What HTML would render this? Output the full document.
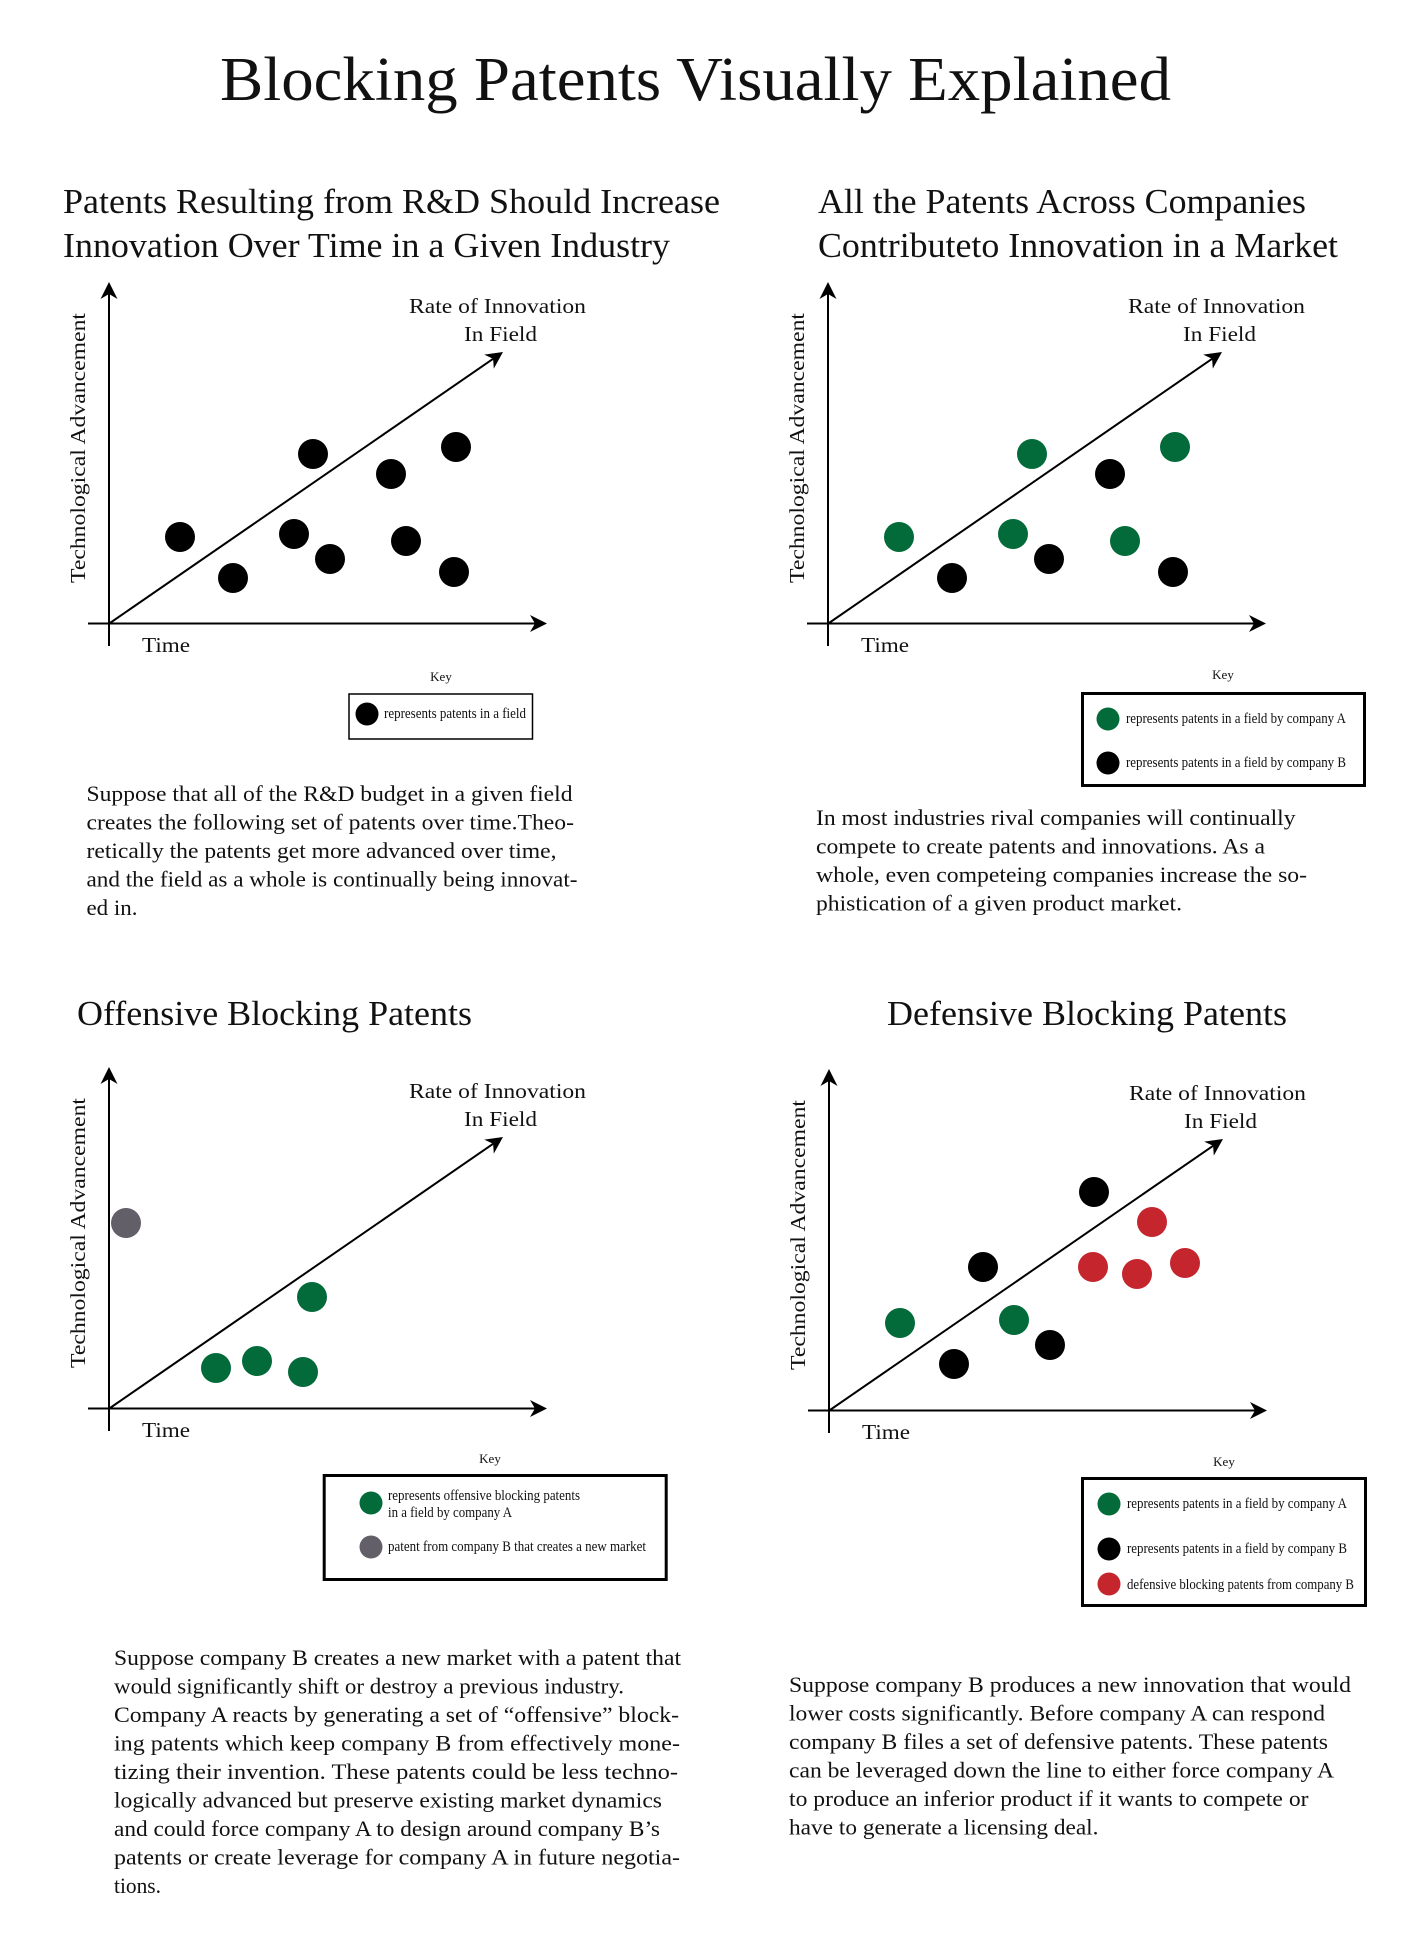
<!DOCTYPE html>
<html>
<head>
<meta charset="utf-8">
<style>
  html,body{margin:0;padding:0;background:#fff;}
  svg{display:block;}
  text{font-family:"Liberation Serif","Times New Roman",serif;fill:#111;}
</style>
</head>
<body>
<svg width="1420" height="1952" viewBox="0 0 1420 1952" xmlns="http://www.w3.org/2000/svg">
  <rect x="0" y="0" width="1420" height="1952" fill="#fff"/>
  <defs>
    <g id="axes">
      <line x1="109" y1="292" x2="109" y2="646" stroke="#000" stroke-width="2"/>
      <path d="M109,282 L117.5,299 L109,294 L100.5,299 Z" fill="#000"/>
      <line x1="88" y1="623.5" x2="537" y2="623.5" stroke="#000" stroke-width="2"/>
      <path d="M547,623.5 L530,615 L535,623.5 L530,632 Z" fill="#000"/>
      <line x1="110" y1="623" x2="493.1" y2="358.8" stroke="#000" stroke-width="2"/>
      <path d="M503,352 L493.8,368.6 L493.1,358.8 L484.2,354.65 Z" fill="#000"/>
      <text x="409" y="313" font-size="21.5" textLength="177" lengthAdjust="spacingAndGlyphs">Rate of Innovation</text>
      <text x="464" y="341" font-size="21.5" textLength="73" lengthAdjust="spacingAndGlyphs">In Field</text>
      <text x="142" y="652" font-size="21.5" textLength="48" lengthAdjust="spacingAndGlyphs">Time</text>
      <text transform="translate(85,448) rotate(-90)" x="-135" y="0" font-size="21.5" textLength="270" lengthAdjust="spacingAndGlyphs">Technological Advancement</text>
    </g>
  </defs>

  <text x="220" y="100" font-size="62" textLength="951" lengthAdjust="spacingAndGlyphs">Blocking Patents Visually Explained</text>

  <text x="63" y="213" font-size="34.5" textLength="657" lengthAdjust="spacingAndGlyphs">Patents Resulting from R&amp;D Should Increase</text>
  <text x="63" y="257" font-size="34.5" textLength="607" lengthAdjust="spacingAndGlyphs">Innovation Over Time in a Given Industry</text>
  <text x="818" y="213" font-size="34.5" textLength="488" lengthAdjust="spacingAndGlyphs">All the Patents Across Companies</text>
  <text x="818" y="257" font-size="34.5" textLength="520" lengthAdjust="spacingAndGlyphs">Contributeto Innovation in a Market</text>
  <text x="77" y="1025" font-size="34.5" textLength="395" lengthAdjust="spacingAndGlyphs">Offensive Blocking Patents</text>
  <text x="887" y="1025" font-size="34.5" textLength="400" lengthAdjust="spacingAndGlyphs">Defensive Blocking Patents</text>

  <use href="#axes"/>
  <g fill="#000">
    <circle cx="180" cy="537" r="15"/>
    <circle cx="233" cy="578" r="15"/>
    <circle cx="313" cy="454" r="15"/>
    <circle cx="294" cy="534" r="15"/>
    <circle cx="330" cy="559" r="15"/>
    <circle cx="391" cy="474" r="15"/>
    <circle cx="406" cy="541" r="15"/>
    <circle cx="456" cy="447" r="15"/>
    <circle cx="454" cy="572" r="15"/>
  </g>

  <g transform="translate(719,0)">
    <use href="#axes"/>
    <g fill="#036b39">
      <circle cx="180" cy="537" r="15"/>
      <circle cx="313" cy="454" r="15"/>
      <circle cx="294" cy="534" r="15"/>
      <circle cx="406" cy="541" r="15"/>
      <circle cx="456" cy="447" r="15"/>
    </g>
    <g fill="#000">
      <circle cx="233" cy="578" r="15"/>
      <circle cx="330" cy="559" r="15"/>
      <circle cx="391" cy="474" r="15"/>
      <circle cx="454" cy="572" r="15"/>
    </g>
  </g>

  <g transform="translate(0,785)">
    <use href="#axes"/>
  </g>
  <circle cx="126" cy="1223" r="15" fill="#625f69"/>
  <g fill="#036b39">
    <circle cx="216" cy="1368" r="15"/>
    <circle cx="257" cy="1361" r="15"/>
    <circle cx="312" cy="1297" r="15"/>
    <circle cx="303" cy="1372" r="15"/>
  </g>

  <g transform="translate(720,787)">
    <use href="#axes"/>
  </g>
  <g fill="#036b39">
    <circle cx="900" cy="1323" r="15"/>
    <circle cx="1014" cy="1320" r="15"/>
  </g>
  <g fill="#000">
    <circle cx="1094" cy="1192" r="15"/>
    <circle cx="983" cy="1267" r="15"/>
    <circle cx="954" cy="1364" r="15"/>
    <circle cx="1050" cy="1345" r="15"/>
  </g>
  <g fill="#c5262e">
    <circle cx="1152" cy="1222" r="15"/>
    <circle cx="1093" cy="1267" r="15"/>
    <circle cx="1137" cy="1274" r="15"/>
    <circle cx="1185" cy="1263" r="15"/>
  </g>

  <text x="441" y="681" font-size="13" text-anchor="middle">Key</text>
  <rect x="349" y="694" width="183.5" height="45" fill="none" stroke="#000" stroke-width="1.5"/>
  <circle cx="367" cy="714" r="11.5" fill="#000"/>
  <text x="384" y="718" font-size="15" textLength="142" lengthAdjust="spacingAndGlyphs">represents patents in a field</text>

  <text x="1223" y="679" font-size="13" text-anchor="middle">Key</text>
  <rect x="1082.5" y="693.5" width="282" height="92" fill="none" stroke="#000" stroke-width="3"/>
  <circle cx="1108" cy="719" r="11.5" fill="#036b39"/>
  <text x="1126" y="723" font-size="15" textLength="220" lengthAdjust="spacingAndGlyphs">represents patents in a field by company A</text>
  <circle cx="1108" cy="763" r="11.5" fill="#000"/>
  <text x="1126" y="767" font-size="15" textLength="220" lengthAdjust="spacingAndGlyphs">represents patents in a field by company B</text>

  <text x="490" y="1463" font-size="13" text-anchor="middle">Key</text>
  <rect x="324.2" y="1475.5" width="342" height="104" fill="none" stroke="#000" stroke-width="3"/>
  <circle cx="371" cy="1503" r="11.5" fill="#036b39"/>
  <text x="388" y="1500" font-size="15" textLength="192" lengthAdjust="spacingAndGlyphs">represents offensive blocking patents</text>
  <text x="388" y="1517" font-size="15" textLength="124" lengthAdjust="spacingAndGlyphs">in a field by company A</text>
  <circle cx="371" cy="1547" r="11.5" fill="#625f69"/>
  <text x="388" y="1551" font-size="15" textLength="258" lengthAdjust="spacingAndGlyphs">patent from company B that creates a new market</text>

  <text x="1224" y="1466" font-size="13" text-anchor="middle">Key</text>
  <rect x="1082.5" y="1478.5" width="283" height="127" fill="none" stroke="#000" stroke-width="3"/>
  <circle cx="1109" cy="1504" r="11.5" fill="#036b39"/>
  <text x="1127" y="1508" font-size="15" textLength="220" lengthAdjust="spacingAndGlyphs">represents patents in a field by company A</text>
  <circle cx="1109" cy="1549" r="11.5" fill="#000"/>
  <text x="1127" y="1553" font-size="15" textLength="220" lengthAdjust="spacingAndGlyphs">represents patents in a field by company B</text>
  <circle cx="1109" cy="1584" r="11.5" fill="#c5262e"/>
  <text x="1127" y="1589" font-size="15" textLength="227" lengthAdjust="spacingAndGlyphs">defensive blocking patents from company B</text>

  <g font-size="22">
    <text x="86.5" y="801" textLength="486" lengthAdjust="spacingAndGlyphs">Suppose that all of the R&amp;D budget in a given field</text>
    <text x="86.5" y="829.5" textLength="487.5" lengthAdjust="spacingAndGlyphs">creates the following set of patents over time.Theo-</text>
    <text x="86.5" y="858" textLength="470" lengthAdjust="spacingAndGlyphs">retically the patents get more advanced over time,</text>
    <text x="86.5" y="886.5" textLength="491" lengthAdjust="spacingAndGlyphs">and the field as a whole is continually being innovat-</text>
    <text x="86.5" y="915" textLength="51" lengthAdjust="spacingAndGlyphs">ed in.</text>
  </g>

  <g font-size="22">
    <text x="816" y="825" textLength="479.5" lengthAdjust="spacingAndGlyphs">In most industries rival companies will continually</text>
    <text x="816" y="853.5" textLength="449" lengthAdjust="spacingAndGlyphs">compete to create patents and innovations. As a</text>
    <text x="816" y="882" textLength="491" lengthAdjust="spacingAndGlyphs">whole, even competeing companies increase the so-</text>
    <text x="816" y="910.5" textLength="366" lengthAdjust="spacingAndGlyphs">phistication of a given product market.</text>
  </g>

  <g font-size="22">
    <text x="114" y="1665" textLength="567" lengthAdjust="spacingAndGlyphs">Suppose company B creates a new market with a patent that</text>
    <text x="114" y="1693.5" textLength="510" lengthAdjust="spacingAndGlyphs">would significantly shift or destroy a previous industry.</text>
    <text x="114" y="1722" textLength="565" lengthAdjust="spacingAndGlyphs">Company A reacts by generating a set of “offensive” block-</text>
    <text x="114" y="1750.5" textLength="566" lengthAdjust="spacingAndGlyphs">ing patents which keep company B from effectively mone-</text>
    <text x="114" y="1779" textLength="564" lengthAdjust="spacingAndGlyphs">tizing their invention. These patents could be less techno-</text>
    <text x="114" y="1807.5" textLength="548" lengthAdjust="spacingAndGlyphs">logically advanced but preserve existing market dynamics</text>
    <text x="114" y="1836" textLength="546" lengthAdjust="spacingAndGlyphs">and could force company A to design around company B’s</text>
    <text x="114" y="1864.5" textLength="566" lengthAdjust="spacingAndGlyphs">patents or create leverage for company A in future negotia-</text>
    <text x="114" y="1893" textLength="47" lengthAdjust="spacingAndGlyphs">tions.</text>
  </g>

  <g font-size="22">
    <text x="789" y="1692" textLength="562" lengthAdjust="spacingAndGlyphs">Suppose company B produces a new innovation that would</text>
    <text x="789" y="1720.5" textLength="536" lengthAdjust="spacingAndGlyphs">lower costs significantly. Before company A can respond</text>
    <text x="789" y="1749" textLength="539" lengthAdjust="spacingAndGlyphs">company B files a set of defensive patents. These patents</text>
    <text x="789" y="1777.5" textLength="545" lengthAdjust="spacingAndGlyphs">can be leveraged down the line to either force company A</text>
    <text x="789" y="1806" textLength="519.5" lengthAdjust="spacingAndGlyphs">to produce an inferior product if it wants to compete or</text>
    <text x="789" y="1834.5" textLength="309.5" lengthAdjust="spacingAndGlyphs">have to generate a licensing deal.</text>
  </g>
</svg>
</body>
</html>
